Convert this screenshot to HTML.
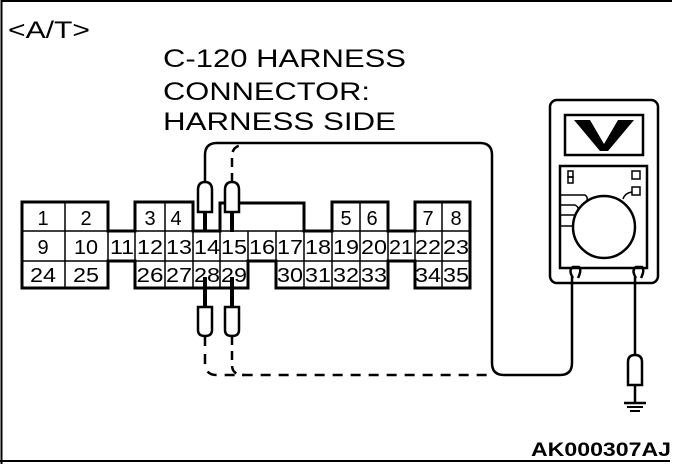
<!DOCTYPE html>
<html><head><style>body{margin:0;background:#fff}svg{display:block}</style></head><body>
<svg width="690" height="464" viewBox="0 0 690 464" xmlns="http://www.w3.org/2000/svg" font-family="Liberation Sans, sans-serif">
<rect width="690" height="464" fill="#fff"/>
<path d="M1.5 464 V1 H672" fill="none" stroke="#000" stroke-width="2"/>
<line x1="0" y1="461" x2="670" y2="461" stroke="#000" stroke-width="2"/>
<text x="8" y="38" font-size="24" textLength="82" lengthAdjust="spacingAndGlyphs">&lt;A/T&gt;</text>
<g font-size="25">
<text x="163" y="67" textLength="243" lengthAdjust="spacingAndGlyphs">C-120 HARNESS</text>
<text x="163" y="100" textLength="207" lengthAdjust="spacingAndGlyphs">CONNECTOR:</text>
<text x="163" y="130" textLength="233" lengthAdjust="spacingAndGlyphs">HARNESS SIDE</text>
</g>
<text x="531" y="456" font-size="19" font-weight="bold" textLength="140" lengthAdjust="spacingAndGlyphs">AK000307AJ</text>

<g fill="none" stroke="#000" stroke-width="3" stroke-linejoin="miter">
<path d="M22 202 H108 V231 H135 V202 H193 V231 H220 V203 H304 V231 H332 V202 H388 V231 H415 V202 H470 V288 H415 V261 H388 V288 H276 V261 H248 V288 H135 V261 H108 V288 H22 Z"/>
</g>
<g stroke="#000" stroke-width="1.5">
<line x1="22" y1="231" x2="470" y2="231"/>
<line x1="22" y1="261" x2="470" y2="261"/>
<line x1="65" y1="202" x2="65" y2="288"/>
<line x1="108" y1="231" x2="108" y2="261"/>
<line x1="135" y1="231" x2="135" y2="261"/>
<line x1="165" y1="202" x2="165" y2="288"/>
<line x1="193" y1="202" x2="193" y2="288"/>
<line x1="220" y1="231" x2="220" y2="288"/>
<line x1="248" y1="231" x2="248" y2="261"/>
<line x1="276" y1="231" x2="276" y2="261"/>
<line x1="304" y1="231" x2="304" y2="288"/>
<line x1="332" y1="231" x2="332" y2="288"/>
<line x1="360" y1="202" x2="360" y2="288"/>
<line x1="388" y1="231" x2="388" y2="261"/>
<line x1="415" y1="231" x2="415" y2="261"/>
<line x1="442" y1="202" x2="442" y2="288"/>
</g>
<g font-size="20" text-anchor="middle">
<text x="43" y="225">1</text><text x="86" y="225">2</text>
<text x="150" y="225">3</text><text x="176" y="225">4</text>
<text x="346" y="225">5</text><text x="372" y="225">6</text>
<text x="428" y="225">7</text><text x="456" y="225">8</text>
<text x="43" y="254">9</text>
</g>
<g font-size="20" text-anchor="middle" lengthAdjust="spacingAndGlyphs">
<text x="86" y="254" textLength="24" lengthAdjust="spacingAndGlyphs">10</text>
<text x="122" y="254" textLength="24" lengthAdjust="spacingAndGlyphs">11</text><text x="150" y="254" textLength="26" lengthAdjust="spacingAndGlyphs">12</text><text x="179" y="254" textLength="26" lengthAdjust="spacingAndGlyphs">13</text>
<text x="207" y="254" textLength="26" lengthAdjust="spacingAndGlyphs">14</text><text x="234" y="254" textLength="26" lengthAdjust="spacingAndGlyphs">15</text><text x="262" y="254" textLength="26" lengthAdjust="spacingAndGlyphs">16</text>
<text x="290" y="254" textLength="26" lengthAdjust="spacingAndGlyphs">17</text><text x="318" y="254" textLength="26" lengthAdjust="spacingAndGlyphs">18</text><text x="346" y="254" textLength="26" lengthAdjust="spacingAndGlyphs">19</text>
<text x="374" y="254" textLength="26" lengthAdjust="spacingAndGlyphs">20</text><text x="401" y="254" textLength="24" lengthAdjust="spacingAndGlyphs">21</text><text x="428" y="254" textLength="26" lengthAdjust="spacingAndGlyphs">22</text><text x="456" y="254" textLength="26" lengthAdjust="spacingAndGlyphs">23</text>
<text x="43" y="282" textLength="26" lengthAdjust="spacingAndGlyphs">24</text><text x="86" y="282" textLength="26" lengthAdjust="spacingAndGlyphs">25</text>
<text x="150" y="282" textLength="27" lengthAdjust="spacingAndGlyphs">26</text><text x="179" y="282" textLength="26" lengthAdjust="spacingAndGlyphs">27</text><text x="207" y="282" textLength="26" lengthAdjust="spacingAndGlyphs">28</text><text x="234" y="282" textLength="26" lengthAdjust="spacingAndGlyphs">29</text>
<text x="290" y="282" textLength="26" lengthAdjust="spacingAndGlyphs">30</text><text x="318" y="282" textLength="26" lengthAdjust="spacingAndGlyphs">31</text><text x="346" y="282" textLength="26" lengthAdjust="spacingAndGlyphs">32</text><text x="374" y="282" textLength="26" lengthAdjust="spacingAndGlyphs">33</text>
<text x="428" y="282" textLength="26" lengthAdjust="spacingAndGlyphs">34</text><text x="456" y="282" textLength="26" lengthAdjust="spacingAndGlyphs">35</text>
</g>

<g fill="#fff" stroke="#000" stroke-width="2.5">
<path d="M198 212 V190 Q198 182 205 182 Q212 182 212 190 V212 Z"/>
<path d="M225 212 V190 Q225 182 232 182 Q239 182 239 190 V212 Z"/>
<path d="M198 307 V330 Q198 336 205 336 Q212 336 212 330 V307 Z"/>
<path d="M225 307 V330 Q225 336 232 336 Q239 336 239 330 V307 Z"/>
</g>
<g stroke="#000" stroke-width="4">
<line x1="205" y1="212" x2="205" y2="232"/>
<line x1="232" y1="212" x2="232" y2="232"/>
<line x1="205" y1="277" x2="205" y2="307"/>
<line x1="232" y1="277" x2="232" y2="307"/>
</g>
<g fill="none" stroke="#000" stroke-width="2.5">
<path d="M205 182 V155 Q205 143 217 143 H480 Q492 143 492 155 V363 Q492 375 504 375 H560 Q572 375 572 363 V277"/>
<path d="M232 182 V157 Q232 145 244 145" stroke-dasharray="9,6"/>
<path d="M205 336 V363 Q205 375 217 375 H492" stroke-dasharray="10,8"/>
<path d="M232 336 V365 Q232 375 244 375" stroke-dasharray="9,6"/>
</g>

<g fill="none" stroke="#000" stroke-width="2.5">
<rect x="550" y="100" width="108" height="183" rx="7"/>
<rect x="565" y="115" width="78" height="40"/>
<rect x="560" y="166" width="87" height="102"/>
<circle cx="604" cy="227" r="31"/>
<path d="M573 278 Q568 270 573 267 H579 Q582 270 578 278"/>
<path d="M636 278 Q631 270 636 267 H642 Q645 270 641 278"/>
<rect x="568" y="171" width="5" height="6" stroke-width="1.5"/>
<rect x="568" y="177" width="5" height="6" stroke-width="1.5"/>
<rect x="632" y="171" width="8" height="8" stroke-width="1.5"/>
<rect x="632" y="187" width="8" height="8" stroke-width="1.5"/>
<path d="M623 199 Q625 193 632 192" stroke-width="1.5"/>
<path d="M561 195 H585 Q588 197 587 200" stroke-width="1.5"/>
<path d="M561 205 H575 Q579 207 578 210" stroke-width="1.5"/>
<path d="M561 215 H575" stroke-width="1.5"/>
<path d="M561 226 H573" stroke-width="1.5"/>
<line x1="635" y1="277" x2="635" y2="356"/>
<path d="M628 385 V362 Q628 355 635 355 Q642 355 642 362 V385 Z" fill="#fff"/>
<line x1="635" y1="385" x2="635" y2="403"/>
<line x1="624" y1="403" x2="646" y2="403"/>
<line x1="627" y1="407" x2="643" y2="407" stroke-width="2"/>
<line x1="630" y1="411" x2="640" y2="411" stroke-width="2"/>
</g>
<path d="M574 120 H590 L604 144 L618 120 H634 L608 151 H600 Z" fill="#000"/>
</svg>
</body></html>
